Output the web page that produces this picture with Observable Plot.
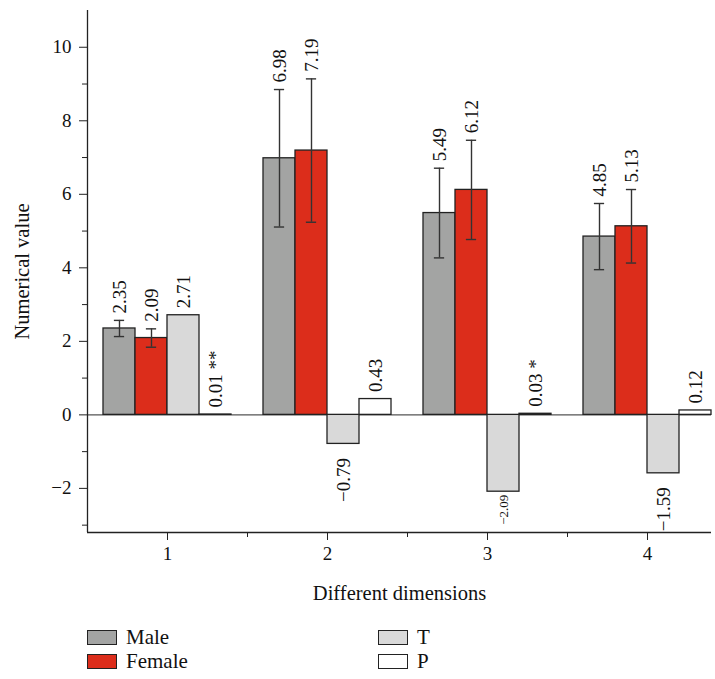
<!DOCTYPE html>
<html><head><meta charset="utf-8">
<script src="https://cdn.jsdelivr.net/npm/d3@7"></script>
<script src="https://cdn.jsdelivr.net/npm/@observablehq/plot@0.6"></script>
<style>
body{margin:0;background:#fff;font-family:"Liberation Serif",serif;color:#111;}
#legend{display:grid;grid-template-columns:291px 200px;grid-auto-rows:24px;padding-left:87px;margin-top:15px;font-size:21px;}
.item{display:flex;align-items:center;}
.sw{width:30px;height:15px;border:1.3px solid #222;margin-right:9px;box-sizing:border-box;}
</style></head><body><div id="chart"></div><script>
const dimensions = [1, 2, 3, 4];
const series = ["Male", "Female", "T", "P"];
const male = [2.35, 6.98, 5.49, 4.85];
const female = [2.09, 7.19, 6.12, 5.13];
const tValues = [2.71, -0.79, -2.09, -1.59];
const pValues = [0.01, 0.43, 0.03, 0.12];
const maleErr = [0.22, 1.87, 1.22, 0.90];
const femaleErr = [0.25, 1.95, 1.35, 1.00];
const pStars = ["**", "", "*", ""];
const yTicks = [-2, 0, 2, 4, 6, 8, 10];
const yMinor = [-3, -1, 1, 3, 5, 7, 9];
const xTicks = [1, 2, 3, 4];
const xMinor = [1.5, 2.5, 3.5];
const colors = ["#a3a4a3", "#dc2d1b", "#d9d9d9", "#ffffff"];
const yLabel = "Numerical value";
const xLabel = "Different dimensions";

const seriesValues = [male, female, tValues, pValues];
const seriesErr = [maleErr, femaleErr, null, null];
const barW = 0.2;
const rows = [];
dimensions.forEach((d, i) => {
  series.forEach((s, j) => {
    const v = seriesValues[j][i];
    const e = seriesErr[j] ? seriesErr[j][i] : 0;
    const x1 = d - 2 * barW + j * barW;
    const txt = (v < 0 ? "\u2212" + Math.abs(v).toFixed(2) : v.toFixed(2)) + (s === "P" && pStars[i] ? " " + pStars[i] : "");
    rows.push({dim: d, series: s, value: v, err: e, x1, x2: x1 + barW, xc: x1 + barW / 2, label: txt, small: s === "T" && i === 2});
  });
});
const errRows = rows.filter(r => r.err > 0);
const posRows = rows.filter(r => r.value >= 0);
const negRows = rows.filter(r => r.value < 0 && !r.small);
const smallRows = rows.filter(r => r.value < 0 && r.small);
const font = "'Liberation Serif', serif";
const fs = 19;

const chart = Plot.plot({
  width: 715,
  height: 610,
  marginTop: 10,
  marginBottom: 78,
  marginLeft: 87,
  marginRight: 4,
  style: {fontFamily: font, fontSize: fs + "px", color: "#111", background: "#fff"},
  x: {domain: [0.5, 4.4]},
  y: {domain: [-3.2, 11]},
  color: {domain: series, range: colors},
  marks: [
    Plot.ruleY([0], {stroke: "#555", strokeWidth: 1.2}),
    Plot.rectY(rows, {x1: "x1", x2: "x2", y1: 0, y2: "value", fill: "series", stroke: "#222", strokeWidth: 1.3}),
    Plot.ruleX(errRows, {x: "xc", y1: r => r.value - r.err, y2: r => r.value + r.err, stroke: "#333", strokeWidth: 1.4}),
    Plot.ruleY(errRows, {y: r => r.value + r.err, x1: r => r.xc - 0.032, x2: r => r.xc + 0.032, stroke: "#333", strokeWidth: 1.4}),
    Plot.ruleY(errRows, {y: r => r.value - r.err, x1: r => r.xc - 0.032, x2: r => r.xc + 0.032, stroke: "#333", strokeWidth: 1.4}),
    Plot.text(posRows, {x: "xc", y: r => r.value + r.err, text: "label", rotate: -90, textAnchor: "start", dy: -7, fontSize: fs, fill: "#111"}),
    Plot.text(negRows, {x: "xc", y: "value", text: "label", rotate: -90, textAnchor: "end", dy: 14, fontSize: fs, fill: "#111"}),
    Plot.text(smallRows, {x: "xc", y: "value", text: "label", rotate: -90, textAnchor: "end", dy: 3, fontSize: 13, fill: "#111"}),
    Plot.axisY({ticks: yTicks, tickSize: 8, tickPadding: 8, fontSize: fs, label: null, stroke: "#222"}),
    Plot.axisY({ticks: yMinor, tickSize: 5, tickFormat: () => "", label: null, stroke: "#222"}),
    Plot.axisX({ticks: xTicks, tickSize: 8, tickPadding: 6, fontSize: fs, tickFormat: d => String(d), label: null, stroke: "#222"}),
    Plot.axisX({ticks: xMinor, tickSize: 5, tickFormat: () => "", label: null, stroke: "#222"}),
    Plot.ruleX([0.5], {stroke: "#222", strokeWidth: 1.3}),
    Plot.ruleY([-3.2], {stroke: "#222", strokeWidth: 1.3}),
    Plot.text([yLabel], {text: d => d, frameAnchor: "left", textAnchor: "middle", lineAnchor: "middle", rotate: -90, dx: -65, fontSize: 20.5, fill: "#111"}),
    Plot.text([xLabel], {text: d => d, frameAnchor: "bottom", textAnchor: "middle", lineAnchor: "middle", dy: 61, fontSize: 20.5, fill: "#111"})
  ]
});
document.getElementById("chart").appendChild(chart);

const legend = document.createElement("div");
legend.id = "legend";
const order = [0, 2, 1, 3];
order.forEach(j => {
  const it = document.createElement("div");
  it.className = "item";
  const sw = document.createElement("span");
  sw.className = "sw";
  sw.style.background = colors[j];
  const lb = document.createElement("span");
  lb.textContent = series[j];
  it.appendChild(sw); it.appendChild(lb);
  legend.appendChild(it);
});
document.body.appendChild(legend);
</script></body></html>
